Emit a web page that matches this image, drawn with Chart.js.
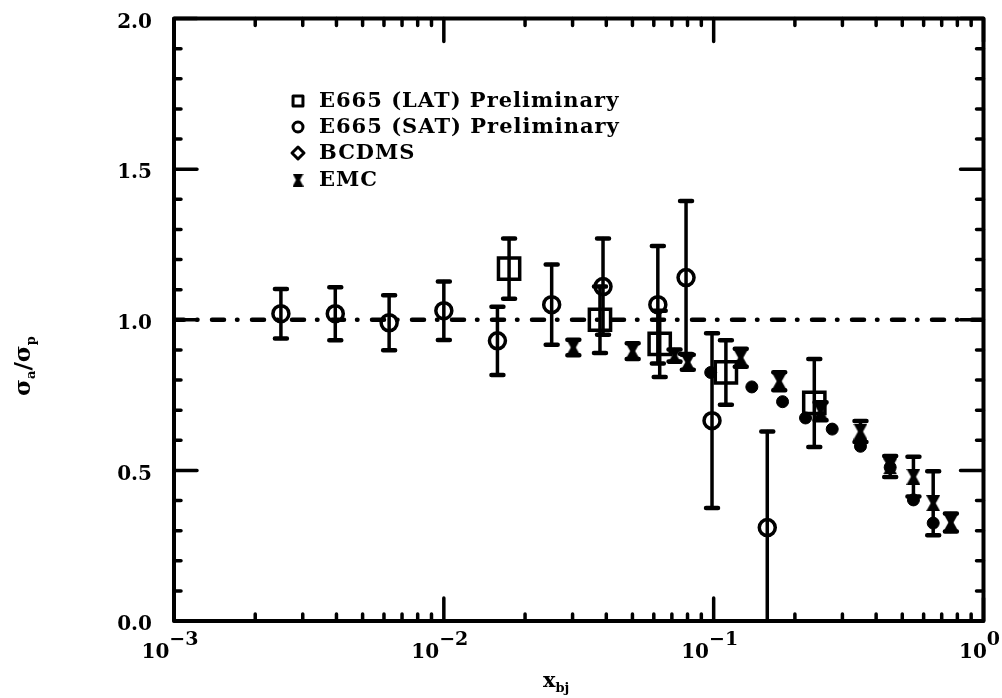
<!DOCTYPE html>
<html>
<head>
<meta charset="utf-8">
<script src="https://cdn.jsdelivr.net/npm/chart.js@4.4.1/dist/chart.umd.min.js"></script>
<style>
  html, body { margin: 0; padding: 0; background: #ffffff; }
  #wrap { width: 1002px; height: 698px; }
</style>
</head>
<body>
<div id="wrap"><canvas id="c" width="1002" height="698"></canvas></div>
<script>
// sigma_A / sigma_p versus x_bj

// E665 small-angle trigger (SAT)
const satX   = [0.00249, 0.00396, 0.00627, 0.0100, 0.0158, 0.0251, 0.0389, 0.0621, 0.079, 0.0986, 0.158];
const satY   = [1.02, 1.02, 0.99, 1.03, 0.93, 1.05, 1.11, 1.05, 1.14, 0.665, 0.31];
const satErr = [0.082, 0.088, 0.091, 0.097, 0.113, 0.133, 0.16, 0.195, 0.254, 0.29, 0.319];

// E665 large-angle trigger (LAT)
const latX   = [0.01745, 0.0379, 0.0631, 0.111, 0.236];
const latY   = [1.17, 1.0, 0.92, 0.825, 0.724];
const latErr = [0.10, 0.11, 0.11, 0.107, 0.146];

// BCDMS
const bcdmsX = [0.0975, 0.1385, 0.18, 0.219, 0.275, 0.35, 0.451, 0.55, 0.651];
const bcdmsY = [0.825, 0.777, 0.728, 0.674, 0.637, 0.58, 0.51, 0.402, 0.325];

// EMC
const emcX   = [0.0302, 0.0501, 0.0716, 0.0802, 0.126, 0.175, 0.249, 0.35, 0.451, 0.55, 0.651, 0.757];
const emcY   = [0.908, 0.896, 0.881, 0.859, 0.874, 0.796, 0.696, 0.629, 0.513, 0.479, 0.391, 0.327];
const emcErr = [0.026, 0.026, 0.02, 0.025, 0.03, 0.03, 0.03, 0.035, 0.035, 0.066, 0.106, 0.03];

// reference line
const unityX = [0.001, 1];
const unityY = [1, 1];

// axis ticks and labels
const xDecades      = [0.001, 0.01, 0.1, 1];
const xDecadeExps   = ['\u22123', '\u22122', '\u22121', '0'];
const yMajorTicks   = [0, 0.5, 1.0, 1.5, 2.0];
const yTickLabels   = ['0.0', '0.5', '1.0', '1.5', '2.0'];
const legendLabels  = ['E665 (LAT) Preliminary', 'E665 (SAT) Preliminary', 'BCDMS', 'EMC'];

const INK = '#000000';
const FONT = '"DejaVu Serif", "Liberation Serif", serif';

function pts(xs, ys) { return xs.map((x, i) => ({ x: x, y: ys[i] })); }

// EMC marker: filled hourglass
function makeHourglass(w, h) {
  const c = document.createElement('canvas');
  c.width = w; c.height = h;
  const g = c.getContext('2d');
  g.fillStyle = INK;
  g.beginPath();
  g.moveTo(0, 0); g.lineTo(w, 0); g.lineTo(w * 0.68, h / 2);
  g.lineTo(w, h); g.lineTo(0, h); g.lineTo(w * 0.32, h / 2);
  g.closePath();
  g.fill();
  return c;
}
const hourglass = makeHourglass(14, 16);
const hourglassSmall = makeHourglass(11, 13);

// symmetric error bars with caps
const errorBars = {
  id: 'errorBars',
  afterDatasetsDraw(chart) {
    const ctx = chart.ctx;
    const xs = chart.scales.x, ys = chart.scales.y;
    const a = chart.chartArea;
    ctx.save();
    ctx.beginPath();
    ctx.rect(a.left, a.top, a.right - a.left, a.bottom - a.top);
    ctx.clip();
    ctx.strokeStyle = INK;
    ctx.lineCap = 'round';
    chart.data.datasets.forEach(ds => {
      if (!ds.errors) return;
      ds.data.forEach((p, i) => {
        const e = ds.errors[i];
        const px = xs.getPixelForValue(p.x);
        const yt = ys.getPixelForValue(p.y + e);
        const yb = ys.getPixelForValue(p.y - e);
        ctx.lineWidth = 3.5;
        ctx.beginPath();
        ctx.moveTo(px, yt); ctx.lineTo(px, yb);
        ctx.stroke();
        ctx.lineWidth = 4.5;
        ctx.beginPath();
        ctx.moveTo(px - 6, yt); ctx.lineTo(px + 6, yt);
        ctx.moveTo(px - 6, yb); ctx.lineTo(px + 6, yb);
        ctx.stroke();
      });
    });
    ctx.restore();
  }
};

// frame, inward ticks, tick labels, axis titles and key
const frame = {
  id: 'frame',
  afterDraw(chart) {
    const ctx = chart.ctx;
    const xs = chart.scales.x, ys = chart.scales.y;
    const a = chart.chartArea;
    ctx.save();
    ctx.strokeStyle = INK;
    ctx.fillStyle = INK;
    ctx.lineCap = 'round';
    ctx.lineJoin = 'round';

    ctx.lineWidth = 4;
    ctx.strokeRect(a.left, a.top, a.right - a.left, a.bottom - a.top);

    ctx.lineWidth = 3.5;
    ctx.beginPath();
    // x ticks, bottom and top
    for (let d = 0; d < xDecades.length; d++) {
      const base = xDecades[d];
      const px = xs.getPixelForValue(base);
      ctx.moveTo(px, a.bottom); ctx.lineTo(px, a.bottom - 23);
      ctx.moveTo(px, a.top); ctx.lineTo(px, a.top + 23);
      if (d < xDecades.length - 1) {
        for (let m = 2; m <= 9; m++) {
          const q = xs.getPixelForValue(base * m);
          ctx.moveTo(q, a.bottom); ctx.lineTo(q, a.bottom - 7);
          ctx.moveTo(q, a.top); ctx.lineTo(q, a.top + 7);
        }
      }
    }
    // y ticks, left and right
    for (let k = 0; k <= 20; k++) {
      const v = k / 10;
      const py = ys.getPixelForValue(v);
      const len = (k % 5 === 0) ? 23 : 7;
      ctx.moveTo(a.left, py); ctx.lineTo(a.left + len, py);
      ctx.moveTo(a.right, py); ctx.lineTo(a.right - len, py);
    }
    ctx.stroke();

    // y tick labels
    ctx.font = 'bold 20px ' + FONT;
    ctx.textAlign = 'right';
    ctx.textBaseline = 'middle';
    yMajorTicks.forEach((v, i) => {
      ctx.fillText(yTickLabels[i], a.left - 22, ys.getPixelForValue(v) + 4);
    });

    // x tick labels: 10 with a raised exponent
    ctx.textBaseline = 'alphabetic';
    ctx.textAlign = 'left';
    xDecades.forEach((v, i) => {
      const px = xs.getPixelForValue(v);
      ctx.font = 'bold 20px ' + FONT;
      const wb = ctx.measureText('10').width;
      ctx.font = 'bold 19px ' + FONT;
      const we = ctx.measureText(xDecadeExps[i]).width;
      const x0 = px - 4 - (wb + we) / 2;
      ctx.font = 'bold 20px ' + FONT;
      ctx.fillText('10', x0, a.bottom + 37);
      ctx.font = 'bold 19px ' + FONT;
      ctx.fillText(xDecadeExps[i], x0 + wb, a.bottom + 24);
    });

    // x axis title: x_bj
    ctx.font = 'bold 21px ' + FONT;
    ctx.fillText('x', 543, a.bottom + 66);
    const wx = ctx.measureText('x').width;
    ctx.font = 'bold 13px ' + FONT;
    ctx.fillText('bj', 543 + wx, a.bottom + 71);

    // y axis title: sigma_a / sigma_p, rotated
    ctx.save();
    ctx.translate(30, 366);
    ctx.rotate(-Math.PI / 2);
    const parts = [
      ['\u03c3', 'bold 23px ', 0], ['a', 'bold 13px ', 5],
      ['/', 'bold 23px ', 0],
      ['\u03c3', 'bold 23px ', 0], ['p', 'bold 13px ', 5]
    ];
    let total = 0;
    parts.forEach(p => { ctx.font = p[1] + FONT; total += ctx.measureText(p[0]).width; });
    let cx = -total / 2;
    parts.forEach(p => {
      ctx.font = p[1] + FONT;
      ctx.fillText(p[0], cx, p[2]);
      cx += ctx.measureText(p[0]).width;
    });
    ctx.restore();

    // key
    const keyX = 298, textX = 319;
    const rows = [101, 127, 153, 180];
    const markers = [
      { pointStyle: 'rect', radius: 7, fill: false, bw: 3 },
      { pointStyle: 'circle', radius: 5, fill: false, bw: 3 },
      { pointStyle: 'rectRot', radius: 6, fill: false, bw: 3 },
      { pointStyle: hourglassSmall, radius: 6, fill: true, bw: 0 }
    ];
    ctx.font = 'bold 21px ' + FONT;
    if ('letterSpacing' in ctx) ctx.letterSpacing = '1px';
    ctx.textAlign = 'left';
    ctx.textBaseline = 'middle';
    rows.forEach((ry, i) => {
      const m = markers[i];
      ctx.lineWidth = m.bw;
      ctx.fillStyle = m.fill ? INK : '#ffffff';
      ctx.strokeStyle = INK;
      Chart.helpers.drawPoint(ctx, { pointStyle: m.pointStyle, radius: m.radius, rotation: 0, borderWidth: m.bw }, keyX, ry);
      ctx.fillStyle = INK;
      ctx.fillText(legendLabels[i], textX, ry + 1);
    });
    ctx.restore();
  }
};

new Chart(document.getElementById('c'), {
  type: 'scatter',
  data: {
    datasets: [
      {
        type: 'line',
        label: 'unity',
        data: pts(unityX, unityY),
        borderColor: INK,
        borderWidth: 4.5,
        borderDash: [12, 13, 0.5, 14.5],
        borderDashOffset: 2,
        borderCapStyle: 'round',
        pointRadius: 0,
        fill: false
      },
      {
        label: legendLabels[0],
        data: pts(latX, latY),
        errors: latErr,
        pointStyle: 'rect',
        pointRadius: 15,
        pointBorderWidth: 3.5,
        pointBorderColor: INK,
        pointBackgroundColor: 'rgba(255,255,255,0)'
      },
      {
        label: legendLabels[1],
        data: pts(satX, satY),
        errors: satErr,
        pointStyle: 'circle',
        pointRadius: 8,
        pointBorderWidth: 3.5,
        pointBorderColor: INK,
        pointBackgroundColor: 'rgba(255,255,255,0)'
      },
      {
        label: legendLabels[2],
        data: pts(bcdmsX, bcdmsY),
        pointStyle: 'circle',
        pointRadius: 6,
        pointBorderWidth: 1,
        pointBorderColor: INK,
        pointBackgroundColor: INK
      },
      {
        label: legendLabels[3],
        data: pts(emcX, emcY),
        errors: emcErr,
        pointStyle: hourglass,
        pointRadius: 7,
        pointBorderWidth: 0,
        pointBorderColor: INK,
        pointBackgroundColor: INK
      }
    ]
  },
  options: {
    responsive: false,
    animation: false,
    events: [],
    layout: { padding: { left: 174, right: 15, top: 14, bottom: 77 } },
    plugins: { legend: { display: false }, tooltip: { enabled: false }, title: { display: false } },
    scales: {
      x: { type: 'logarithmic', min: 0.001, max: 1, display: false },
      y: { type: 'linear', min: 0, max: 2, display: false }
    }
  },
  plugins: [errorBars, frame]
});
</script>
</body>
</html>
